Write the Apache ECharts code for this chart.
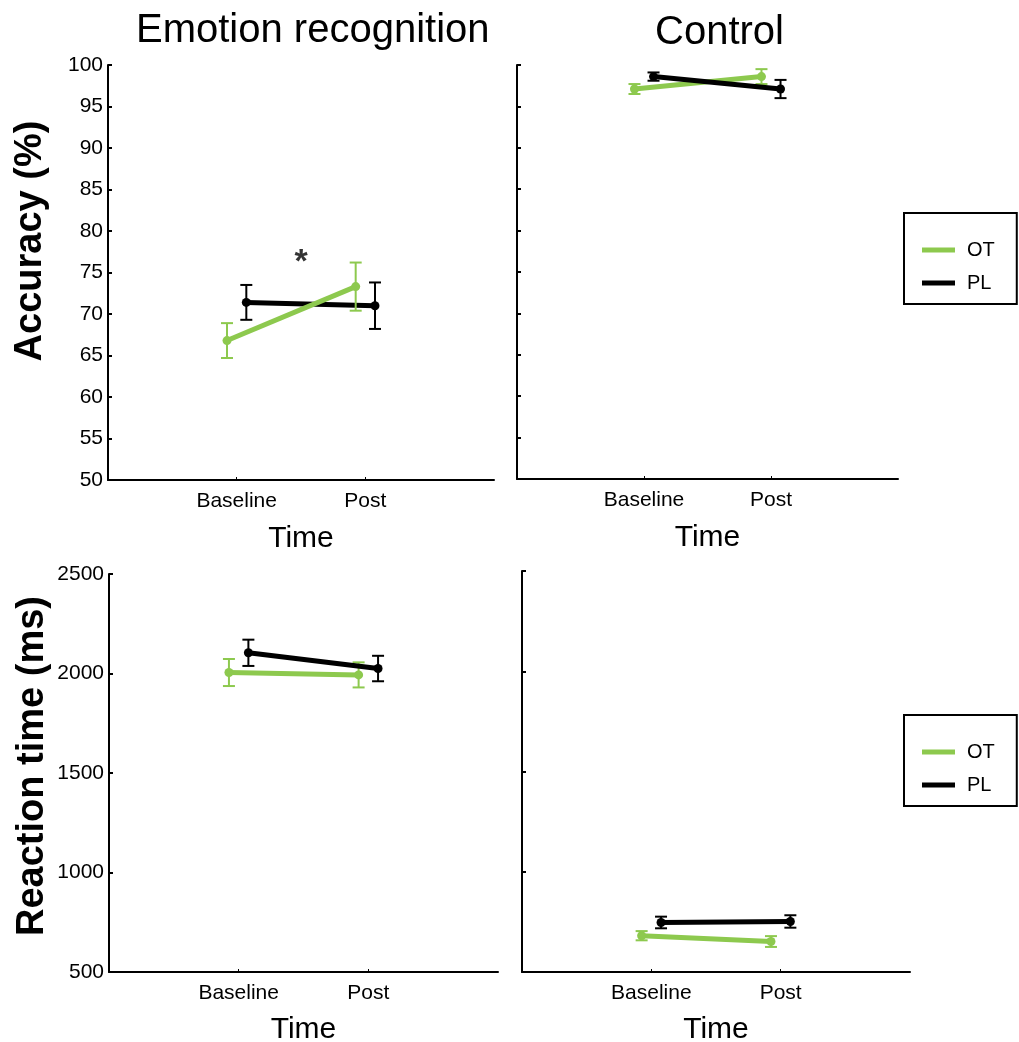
<!DOCTYPE html>
<html>
<head>
<meta charset="utf-8">
<title>Emotion recognition vs Control</title>
<script src="https://cdn.jsdelivr.net/npm/echarts@6/dist/echarts.min.js"></script>
<style>
  html, body { margin: 0; padding: 0; background: #fff; }
  #main { width: 1019px; height: 1042px; }
</style>
</head>
<body>
<div id="main"></div>
<script>
// time points (x positions 1 and 2 on a 0..3 axis)
var timeLabels = ['Baseline', 'Post'];
var timePos = [1, 2];
var dodge = 0.075;

// accuracy (%), emotion recognition
var accEmoOT = [66.8, 73.3];
var accEmoOTErr = [2.1, 2.9];
var accEmoPL = [71.4, 71.0];
var accEmoPLErr = [2.1, 2.8];

// accuracy (%), control
var accCtrlOT = [97.1, 98.6];
var accCtrlOTErr = [0.6, 0.9];
var accCtrlPL = [98.6, 97.1];
var accCtrlPLErr = [0.5, 1.1];

// reaction time (ms), emotion recognition
var rtEmoOT = [2005, 1993];
var rtEmoOTErr = [68, 63];
var rtEmoPL = [2104, 2025];
var rtEmoPLErr = [66, 64];

// reaction time (ms), control
var rtCtrlOT = [681, 652];
var rtCtrlOTErr = [23, 27];
var rtCtrlPL = [747, 752];
var rtCtrlPLErr = [29, 31];

var GREEN = '#8dc94e';
var BLACK = '#000';
var FONT = 'Liberation Sans, Arial, sans-serif';

function pts(vals, off) {
    return vals.map(function (v, i) { return [timePos[i] + off, v]; });
}
function errs(vals, e, off) {
    return vals.map(function (v, i) { return [timePos[i] + off, v - e[i], v + e[i]]; });
}

function errRender(params, api) {
    var x = api.value(0);
    var top = api.coord([x, api.value(2)]);
    var bot = api.coord([x, api.value(1)]);
    var w = 6;
    var st = { stroke: api.visual('color'), lineWidth: 2 };
    return {
        type: 'group',
        children: [
            { type: 'line', shape: { x1: top[0], y1: top[1], x2: bot[0], y2: bot[1] }, style: st },
            { type: 'line', shape: { x1: top[0] - w, y1: top[1], x2: top[0] + w, y2: top[1] }, style: st },
            { type: 'line', shape: { x1: bot[0] - w, y1: bot[1], x2: bot[0] + w, y2: bot[1] }, style: st }
        ]
    };
}

function lineSeries(name, color, vals, off, idx, z) {
    return {
        name: name, type: 'line', xAxisIndex: idx, yAxisIndex: idx,
        data: pts(vals, off), color: color, z: z,
        lineStyle: { width: 5, color: color },
        symbol: 'circle', symbolSize: 9,
        itemStyle: { color: color },
        emphasis: { disabled: true }
    };
}
function errSeries(name, color, vals, e, off, idx, z) {
    return {
        name: name, type: 'custom', xAxisIndex: idx, yAxisIndex: idx,
        data: errs(vals, e, off), color: color, z: z,
        itemStyle: { color: color },
        renderItem: errRender
    };
}

function xAxis(idx, gap) {
    return {
        type: 'value', gridIndex: idx, min: 0, max: 3, interval: 1,
        name: 'Time', nameLocation: 'middle', nameGap: gap,
        nameTextStyle: { fontSize: 30, color: '#000', fontFamily: FONT },
        axisLine: { lineStyle: { color: '#000', width: 2 } },
        axisTick: { inside: true, length: 3, customValues: timePos, lineStyle: { color: '#000' } },
        axisLabel: {
            customValues: timePos, margin: 11, fontSize: 21, color: '#000', fontFamily: FONT,
            formatter: function (v) { return timeLabels[timePos.indexOf(v)] || ''; }
        },
        splitLine: { show: false }
    };
}
function yAxis(idx, min, max, step, labels) {
    return {
        type: 'value', gridIndex: idx, min: min, max: max, interval: step,
        axisLine: { show: true, lineStyle: { color: '#000', width: 2 } },
        axisTick: { show: true, inside: true, length: 4, lineStyle: { color: '#000', width: 2 } },
        axisLabel: {
            show: labels, margin: 5, fontSize: 21, color: '#000', fontFamily: FONT,
            formatter: function (v) { return String(v); }
        },
        splitLine: { show: false }
    };
}

var legendBase = {
    orient: 'vertical', data: ['OT', 'PL'], left: 904,
    icon: 'rect', itemWidth: 33, itemHeight: 5, itemGap: 13,
    borderColor: '#000', borderWidth: 2, borderRadius: 0,
    padding: [27, 22, 11, 18],
    textStyle: { fontSize: 20, color: '#000', fontFamily: FONT, padding: [0, 0, 0, 7] },
    selectedMode: false
};

var myChart = echarts.init(document.getElementById('main'));
var option = {
    animation: false,
    backgroundColor: '#fff',
    grid: [
        { left: 108, top: 65, width: 386, height: 415, outerBoundsMode: 'none' },
        { left: 517, top: 65, width: 381, height: 414, outerBoundsMode: 'none' },
        { left: 109, top: 574, width: 389, height: 398, outerBoundsMode: 'none' },
        { left: 522, top: 571, width: 388, height: 401, outerBoundsMode: 'none' }
    ],
    xAxis: [xAxis(0, 44), xAxis(1, 44), xAxis(2, 43), xAxis(3, 43)],
    yAxis: [
        yAxis(0, 50, 100, 5, true),
        yAxis(1, 50, 100, 5, false),
        yAxis(2, 500, 2500, 500, true),
        yAxis(3, 500, 2500, 500, false)
    ],
    legend: [
        Object.assign({}, legendBase, { top: 213 }),
        Object.assign({}, legendBase, { top: 715 })
    ],
    graphic: [
        { type: 'text', left: 136, top: 11, style: { text: 'Emotion recognition', fontSize: 40, fill: '#000', fontFamily: FONT } },
        { type: 'text', left: 655, top: 13, style: { text: 'Control', fontSize: 40, fill: '#000', fontFamily: FONT } },
        { type: 'text', x: 31, y: 241, rotation: Math.PI / 2,
          style: { text: 'Accuracy (%)', fontSize: 38, fontWeight: 'bold', fill: '#000', fontFamily: FONT, align: 'center', verticalAlign: 'middle' } },
        { type: 'text', x: 33, y: 766, rotation: Math.PI / 2,
          style: { text: 'Reaction time (ms)', fontSize: 38, fontWeight: 'bold', fill: '#000', fontFamily: FONT, align: 'center', verticalAlign: 'middle' } }
    ],
    series: [
        lineSeries('PL', BLACK, accEmoPL, dodge, 0, 2),
        lineSeries('OT', GREEN, accEmoOT, -dodge, 0, 3),
        errSeries('PL', BLACK, accEmoPL, accEmoPLErr, dodge, 0, 2),
        errSeries('OT', GREEN, accEmoOT, accEmoOTErr, -dodge, 0, 3),

        lineSeries('OT', GREEN, accCtrlOT, -dodge, 1, 2),
        lineSeries('PL', BLACK, accCtrlPL, dodge, 1, 3),
        errSeries('OT', GREEN, accCtrlOT, accCtrlOTErr, -dodge, 1, 2),
        errSeries('PL', BLACK, accCtrlPL, accCtrlPLErr, dodge, 1, 3),

        lineSeries('OT', GREEN, rtEmoOT, -dodge, 2, 2),
        lineSeries('PL', BLACK, rtEmoPL, dodge, 2, 3),
        errSeries('OT', GREEN, rtEmoOT, rtEmoOTErr, -dodge, 2, 2),
        errSeries('PL', BLACK, rtEmoPL, rtEmoPLErr, dodge, 2, 3),

        lineSeries('OT', GREEN, rtCtrlOT, -dodge, 3, 2),
        lineSeries('PL', BLACK, rtCtrlPL, dodge, 3, 3),
        errSeries('OT', GREEN, rtCtrlOT, rtCtrlOTErr, -dodge, 3, 2),
        errSeries('PL', BLACK, rtCtrlPL, rtCtrlPLErr, dodge, 3, 3),

        // significance marker
        {
            name: 'sig', type: 'scatter', xAxisIndex: 0, yAxisIndex: 0,
            data: [[1.5, 76.2]], symbolSize: 0, silent: true,
            label: { show: true, position: 'inside', formatter: '*', fontSize: 34, fontWeight: 'bold', color: '#000', fontFamily: FONT }
        }
    ]
};
myChart.setOption(option);
</script>
</body>
</html>
